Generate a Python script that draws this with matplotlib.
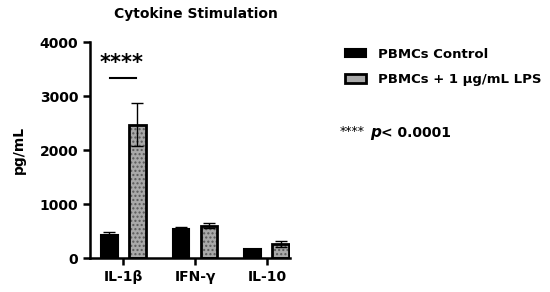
import numpy as np
import matplotlib
matplotlib.use('Agg')
import matplotlib.pyplot as plt
from matplotlib.patches import Patch

plt.rcParams['font.family'] = ['DejaVu Sans']
plt.rcParams['font.weight'] = 'bold'
plt.rcParams['hatch.linewidth'] = 1.0

categories = ['IL-1\u03b2', 'IFN-\u03b3', 'IL-10']
control_mean = [420, 530, 160]
control_err = [60, 40, 15]
lps_mean = [2470, 600, 260]
lps_err = [400, 50, 50]
series_labels = ['PBMCs Control', 'PBMCs + 1 \u03bcg/mL LPS']

fig = plt.figure(figsize=(5.5, 2.92), dpi=100)
ax = fig.add_axes([0.164, 0.116, 0.363, 0.74])

x = np.arange(len(categories))
w = 0.235
off = 0.195
ekw = dict(ecolor='black', elinewidth=1, capsize=4, capthick=1)

ax.bar(x - off, control_mean, width=w, color='black', edgecolor='black', linewidth=1.5,
       yerr=control_err, error_kw=ekw)
# grey fill with fine dark dots, then a black outline on top
ax.bar(x + off, lps_mean, width=w, color='#a9a9a9', edgecolor='#5a5a5a', linewidth=0,
       hatch='....')
ax.bar(x + off, lps_mean, width=w, color='none', edgecolor='black', linewidth=2,
       yerr=lps_err, error_kw=ekw)

# significance marker
ax.plot([x[0] - 0.19, x[0] + 0.18], [3330, 3330], color='black', lw=1.5)
ax.text(x[0] - 0.03, 3420, '****', ha='center', va='bottom', fontsize=15, fontweight='bold')

ax.set_xlim(-0.46, 2.32)
ax.set_ylim(0, 4000)
ax.set_yticks([0, 1000, 2000, 3000, 4000])
ax.set_xticks(x)
ax.set_xticklabels(categories)
ax.set_ylabel('pg/mL', fontsize=10, fontweight='bold', labelpad=10)
ax.set_title('Cytokine Stimulation', fontsize=10, fontweight='bold', pad=17, x=0.53)

for s in ['top', 'right']:
    ax.spines[s].set_visible(False)
for s in ['left', 'bottom']:
    ax.spines[s].set_linewidth(1.8)
ax.tick_params(axis='both', width=1.8, length=5, labelsize=10, direction='out')

handles = [Patch(facecolor='black', edgecolor='black', linewidth=1.5),
           Patch(facecolor='#a9a9a9', edgecolor='black', linewidth=2)]
fig.legend(handles, series_labels, loc='upper left', bbox_to_anchor=(0.618, 0.855),
           frameon=False, fontsize=9.5, handlelength=1.6, handleheight=0.6,
           labelspacing=0.95, handletextpad=0.9, borderaxespad=0)

fig.text(0.617, 0.55, '****', fontsize=9, fontweight='normal', va='center', ha='left')
fig.text(0.672, 0.54, '$p$', fontsize=11, va='center', ha='left')
fig.text(0.693, 0.545, '< 0.0001', fontsize=10, fontweight='bold', va='center', ha='left')

fig.savefig('out.png', dpi=100)
